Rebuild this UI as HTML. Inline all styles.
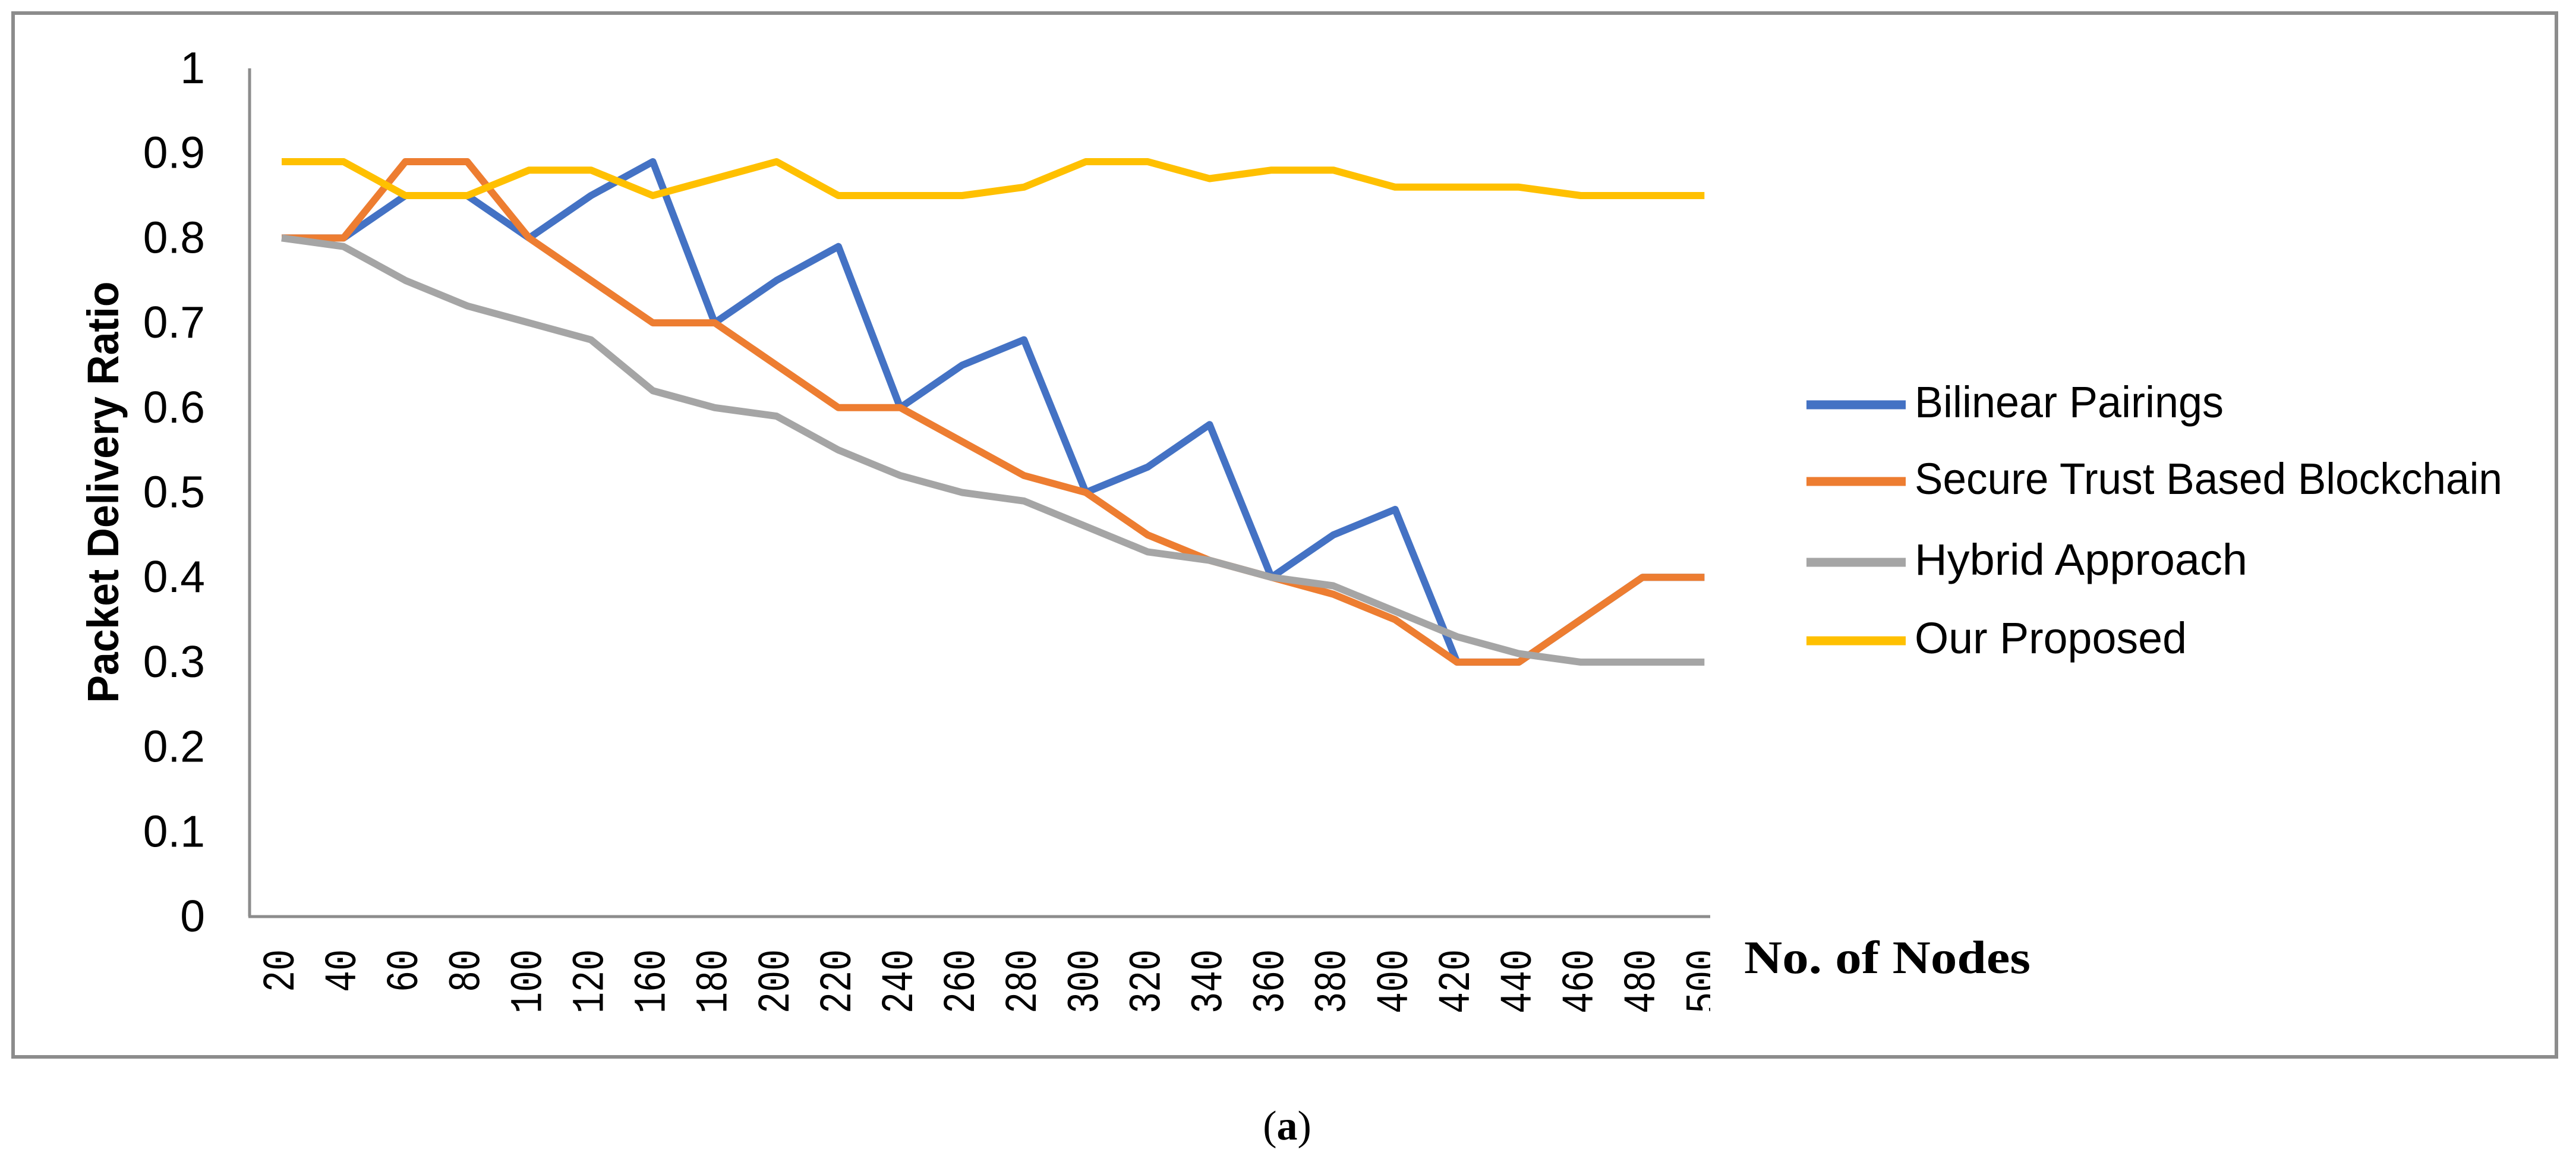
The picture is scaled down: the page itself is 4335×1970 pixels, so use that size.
<!DOCTYPE html>
<html><head><meta charset="utf-8"><style>
html,body{margin:0;padding:0;background:#fff;}
svg{display:block;}
</style></head><body>
<svg width="4335" height="1970" viewBox="0 0 4335 1970" xmlns="http://www.w3.org/2000/svg">
<defs><clipPath id="nclip"><rect x="2900" y="1560" width="700" height="78"/></clipPath>
<clipPath id="xclip"><rect x="400" y="1560" width="2478" height="200"/></clipPath></defs>
<rect x="22" y="22" width="4280" height="1756" fill="#fff" stroke="#8c8c8c" stroke-width="6"/>
<g id="yticks"></g>
<g id="xticks" clip-path="url(#xclip)"></g>
<line x1="420" y1="115" x2="420" y2="1542" stroke="#8c8c8c" stroke-width="5"/>
<line x1="418" y1="1542" x2="2878" y2="1542" stroke="#8c8c8c" stroke-width="5"/>
<g id="series"></g>
<text transform="translate(199 828) rotate(-90)" x="0" y="0" text-anchor="middle" font-family="Liberation Sans, sans-serif" font-weight="bold" font-size="74" textLength="709" lengthAdjust="spacingAndGlyphs">Packet Delivery Ratio</text>
<text x="2935" y="1637" clip-path="url(#nclip)" font-family="Liberation Serif, serif" font-weight="bold" font-size="78" textLength="482" lengthAdjust="spacingAndGlyphs">No. of Nodes</text>
<g id="legend"></g>
<text x="2166" y="1917" text-anchor="middle" font-family="Liberation Serif, serif" font-size="70">(<tspan font-weight="bold">a</tspan>)</text>
</svg>
<script>
const categories = [20,40,60,80,100,120,160,180,200,220,240,260,280,300,320,340,360,380,400,420,440,460,480,500];
const bilinear = [0.8,0.8,0.85,0.85,0.8,0.85,0.89,0.7,0.75,0.79,0.6,0.65,0.68,0.5,0.53,0.58,0.4,0.45,0.48,0.3,0.3,0.35,0.4,0.4];
const secureTrust = [0.8,0.8,0.89,0.89,0.8,0.75,0.7,0.7,0.65,0.6,0.6,0.56,0.52,0.5,0.45,0.42,0.4,0.38,0.35,0.3,0.3,0.35,0.4,0.4];
const hybrid = [0.8,0.79,0.75,0.72,0.7,0.68,0.62,0.6,0.59,0.55,0.52,0.5,0.49,0.46,0.43,0.42,0.4,0.39,0.36,0.33,0.31,0.3,0.3,0.3];
const proposed = [0.89,0.89,0.85,0.85,0.88,0.88,0.85,0.87,0.89,0.85,0.85,0.85,0.86,0.89,0.89,0.87,0.88,0.88,0.86,0.86,0.86,0.85,0.85,0.85];
const yTicks = [0,0.1,0.2,0.3,0.4,0.5,0.6,0.7,0.8,0.9,1];
const yTickLabels = ["0","0.1","0.2","0.3","0.4","0.5","0.6","0.7","0.8","0.9","1"];
const seriesNames = ["Bilinear Pairings","Secure Trust Based Blockchain","Hybrid Approach","Our Proposed"];

const NS="http://www.w3.org/2000/svg";
function xPos(i){return 474 + i*104.1;}
function yPos(v){return 1542 - v*1427;}
function mk(tag,attrs){const e=document.createElementNS(NS,tag);for(const k in attrs)e.setAttribute(k,attrs[k]);return e;}

const yg=document.getElementById('yticks');
yTicks.forEach((v,i)=>{
  const t=mk('text',{x:345,y:yPos(v)+25,'text-anchor':'end','font-family':'Liberation Sans, sans-serif','font-size':'75'});
  
  
  t.textContent=yTickLabels[i];yg.appendChild(t);
});
const xg=document.getElementById('xticks');
categories.forEach((c,i)=>{
  const x=xPos(i);
  const s=String(c);
  const t=mk('text',{x:0,y:0,'text-anchor':'end','dominant-baseline':'central','font-family':'Liberation Mono, monospace','font-size':'76',textLength:36*s.length,lengthAdjust:'spacingAndGlyphs',transform:`translate(${x} 1597) rotate(-90)`});
  
  
  t.textContent=s;xg.appendChild(t);
});
const colors=["#4472C4","#ED7D31","#A5A5A5","#FFC000"];
const data=[bilinear,secureTrust,hybrid,proposed];
const ids=["bilinear-pairings-line","secure-trust-line","hybrid-approach-line","our-proposed-line"];
const sg=document.getElementById('series');
data.forEach((d,s)=>{
  const pts=d.map((v,i)=>xPos(i).toFixed(1)+','+yPos(v).toFixed(1)).join(' ');
  const p=mk('polyline',{points:pts,fill:'none',stroke:colors[s],'stroke-width':'12','stroke-linejoin':'round'});
  
  
  sg.appendChild(p);
});
const lg=document.getElementById('legend');
const ly=[681,810,946,1078];
const lw=[520,989,560,458];
seriesNames.forEach((n,s)=>{
  const l=mk('line',{x1:3040,x2:3207,y1:ly[s],y2:ly[s],stroke:colors[s],'stroke-width':'15'});
  
  
  lg.appendChild(l);
  const t=mk('text',{x:3222,y:ly[s]+21,'font-family':'Liberation Sans, sans-serif','font-size':'74',textLength:lw[s],lengthAdjust:'spacingAndGlyphs'});
  
  
  t.textContent=n;lg.appendChild(t);
});
</script>
</body></html>
